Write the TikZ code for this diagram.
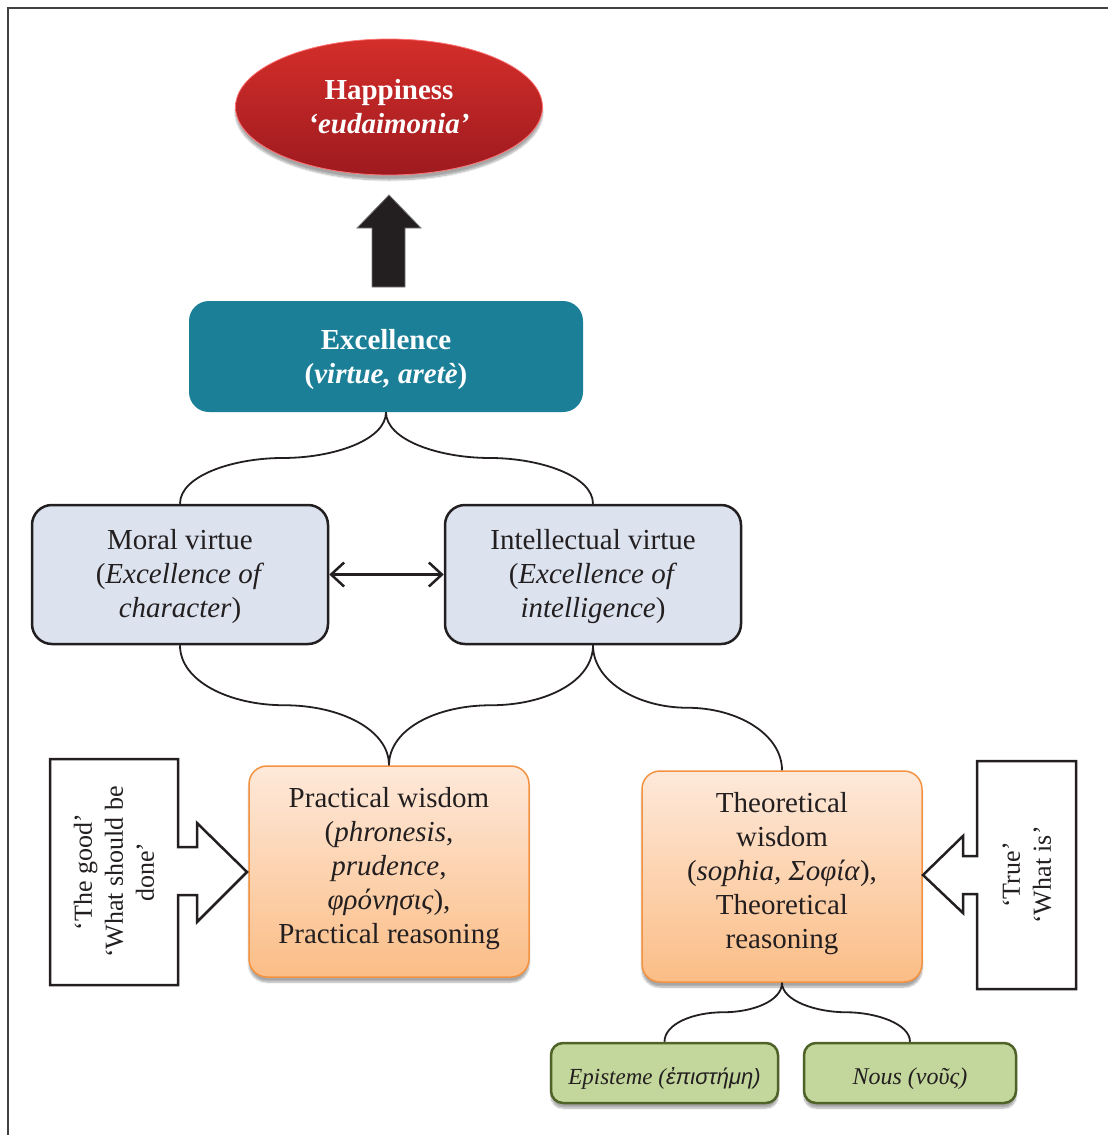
\documentclass[tikz,border=0pt]{standalone}
\usepackage{fontspec}
\setmainfont{Liberation Serif}
\newfontfamily\grsans{Liberation Sans}
\usetikzlibrary{shapes.geometric,arrows.meta,calc,shadows.blur}

\definecolor{ink}{HTML}{231F20}
\definecolor{redtop}{HTML}{D42E2A}
\definecolor{redbot}{HTML}{9E1A1F}
\definecolor{teal}{HTML}{1B7F98}
\definecolor{paleblue}{HTML}{DCE3EF}
\definecolor{orangetop}{HTML}{FEE9DA}
\definecolor{orangebot}{HTML}{FBBD86}
\definecolor{orangeline}{HTML}{F39240}
\definecolor{sage}{HTML}{C3D69B}
\definecolor{sageline}{HTML}{4F6228}

\tikzset{
  softshadow/.style={blur shadow={shadow xshift=0pt,shadow yshift=-5pt,shadow blur steps=8,shadow opacity=35}},
  boxtext/.style={font=\fontsize{29}{34}\selectfont, text=ink, align=center, inner sep=0pt},
  virtuebox/.style={boxtext, draw=ink, line width=2.5pt, fill=paleblue, rounded corners=20pt,
    minimum width=296pt, minimum height=139pt},
  wisdombox/.style={boxtext, draw=orangeline, line width=1.5pt, top color=orangetop, bottom color=orangebot,
    rounded corners=18pt, minimum width=280pt, minimum height=211pt, softshadow},
  greekbox/.style={font=\fontsize{24}{28}\selectfont\itshape, text=ink, draw=sageline, line width=2.5pt,
    fill=sage, rounded corners=12pt, minimum height=60pt, inner sep=0pt, softshadow},
  link/.style={draw=ink, line width=1.8pt},
  callout/.style={draw=ink, line width=2.5pt, fill=white, line join=miter},
  callouttext/.style={font=\fontsize{26}{31}\selectfont, text=ink, align=center, inner sep=0pt, rotate=90},
}

\begin{document}
\begin{tikzpicture}[x=1pt,y=-1pt]
\useasboundingbox (0,0) rectangle (1108,1135);

% outer frame (top and left edges)
\draw[line width=2.5pt, draw=ink!85] (8,1135) -- (8,8) -- (1108,8);

% goal
\node[ellipse, minimum width=307pt, minimum height=136pt, inner sep=0pt,
      top color=redtop, bottom color=redbot, draw=red!55!white, line width=0.8pt,
      softshadow, text=white, align=center, font=\fontsize{29}{34}\selectfont\bfseries]
  (happy) at (389,107) {Happiness\\\textit{‘eudaimonia’}};

% excellence
\node[boxtext, fill=teal, rounded corners=20pt, minimum width=394pt, minimum height=111pt,
      text=white, font=\fontsize{29}{34}\selectfont\bfseries]
  (exc) at (386,356.5) {\rule{0pt}{26pt}Excellence\\(\textit{virtue, aretè})};

% block arrow from excellence up to happiness
\fill[ink, draw=ink!60, line width=0.8pt]
  (372,287) -- (372,228) -- (357,228) -- (389,195) -- (421,228) -- (405,228) -- (405,287) -- cycle;

% the two kinds of virtue
\node[virtuebox] (moral) at (180,574.5) {\rule{0pt}{24pt}Moral virtue\\(\textit{Excellence of}\\\textit{character})};
\node[virtuebox] (intel) at (593,574.5) {\rule{0pt}{24pt}Intellectual virtue\\(\textit{Excellence of}\\\textit{intelligence})};
\draw[line width=2.5pt, draw=ink, {Straight Barb[length=13pt,width=24pt,line width=2.5pt]}-{Straight Barb[length=13pt,width=24pt,line width=2.5pt]}]
  (moral.east) -- (intel.west);

% wisdom boxes
\node[wisdombox] (prac) at (389,871.5)
  {Practical wisdom\\(\textit{phronesis},\\\textit{prudence},\\\textit{φρόνησις}),\\Practical reasoning\rule[-12pt]{0pt}{0pt}};
\node[wisdombox] (theo) at (782,876.5)
  {Theoretical\\wisdom\\(\textit{sophia, Σοφία}),\\Theoretical\\reasoning\rule[-13pt]{0pt}{0pt}};

% the two parts of theoretical wisdom
\node[greekbox, minimum width=227pt, font=\fontsize{23}{28}\selectfont\itshape] (epi) at (664.5,1073)
  {\rule{0pt}{27pt}Episteme ({\grsans\fontsize{22}{28}\selectfont ἐπιστήμη)}};
\node[greekbox, minimum width=212pt] (nous) at (910,1073) {\rule{0pt}{28pt}Nous (νοῦς)};

% brace-shaped connectors
\coordinate (e1) at ($(exc.south)!0.5!(moral.north)$);
\coordinate (e2) at ($(exc.south)!0.5!(intel.north)$);
\draw[link] (exc.south) .. controls +(0,28) and +(50,0) .. (e1)
            .. controls +(-50,0) and +(0,-28) .. (moral.north);
\draw[link] (exc.south) .. controls +(0,28) and +(-50,0) .. (e2)
            .. controls +(50,0) and +(0,-28) .. (intel.north);

\coordinate (p1) at ($(moral.south)!0.5!(prac.north)$);
\coordinate (p2) at ($(intel.south)!0.5!(prac.north)$);
\coordinate (t1) at ($(intel.south)!0.5!(theo.north)$);
\draw[link] (moral.south) .. controls +(0,36) and +(-55,0) .. (p1)
            .. controls +(55,0) and +(0,-36) .. (prac.north);
\draw[link] (intel.south) .. controls +(0,36) and +(55,0) .. (p2)
            .. controls +(-55,0) and +(0,-36) .. (prac.north);
\draw[link] (intel.south) .. controls +(0,36) and +(-50,0) .. (t1)
            .. controls +(50,0) and +(0,-36) .. (theo.north);

\coordinate (g1) at ($(theo.south)!0.5!(epi.north)$);
\coordinate (g2) at ($(theo.south)!0.5!(nous.north)$);
\draw[link] (theo.south) .. controls +(0,18) and +(30,0) .. (g1)
            .. controls +(-30,0) and +(0,-18) .. (epi.north);
\draw[link] (theo.south) .. controls +(0,18) and +(-30,0) .. (g2)
            .. controls +(30,0) and +(0,-18) .. (nous.north);

% callout arrows
\draw[callout] (50,759) -- (178,759) -- (178,847) -- (197,847) -- (197,823) -- (247,872)
  -- (197,922) -- (197,895) -- (178,895) -- (178,985) -- (50,985) -- cycle;
\node[callouttext] (good) at (114,872) {‘The good’\\‘What should be\\done’};

\draw[callout] (1076,761) -- (977,761) -- (977,856) -- (963,856) -- (963,836) -- (923,875)
  -- (963,913) -- (963,894) -- (977,894) -- (977,989) -- (1076,989) -- cycle;
\node[callouttext] (true) at (1027,875) {‘True’\\‘What is’};
\end{tikzpicture}
\end{document}
